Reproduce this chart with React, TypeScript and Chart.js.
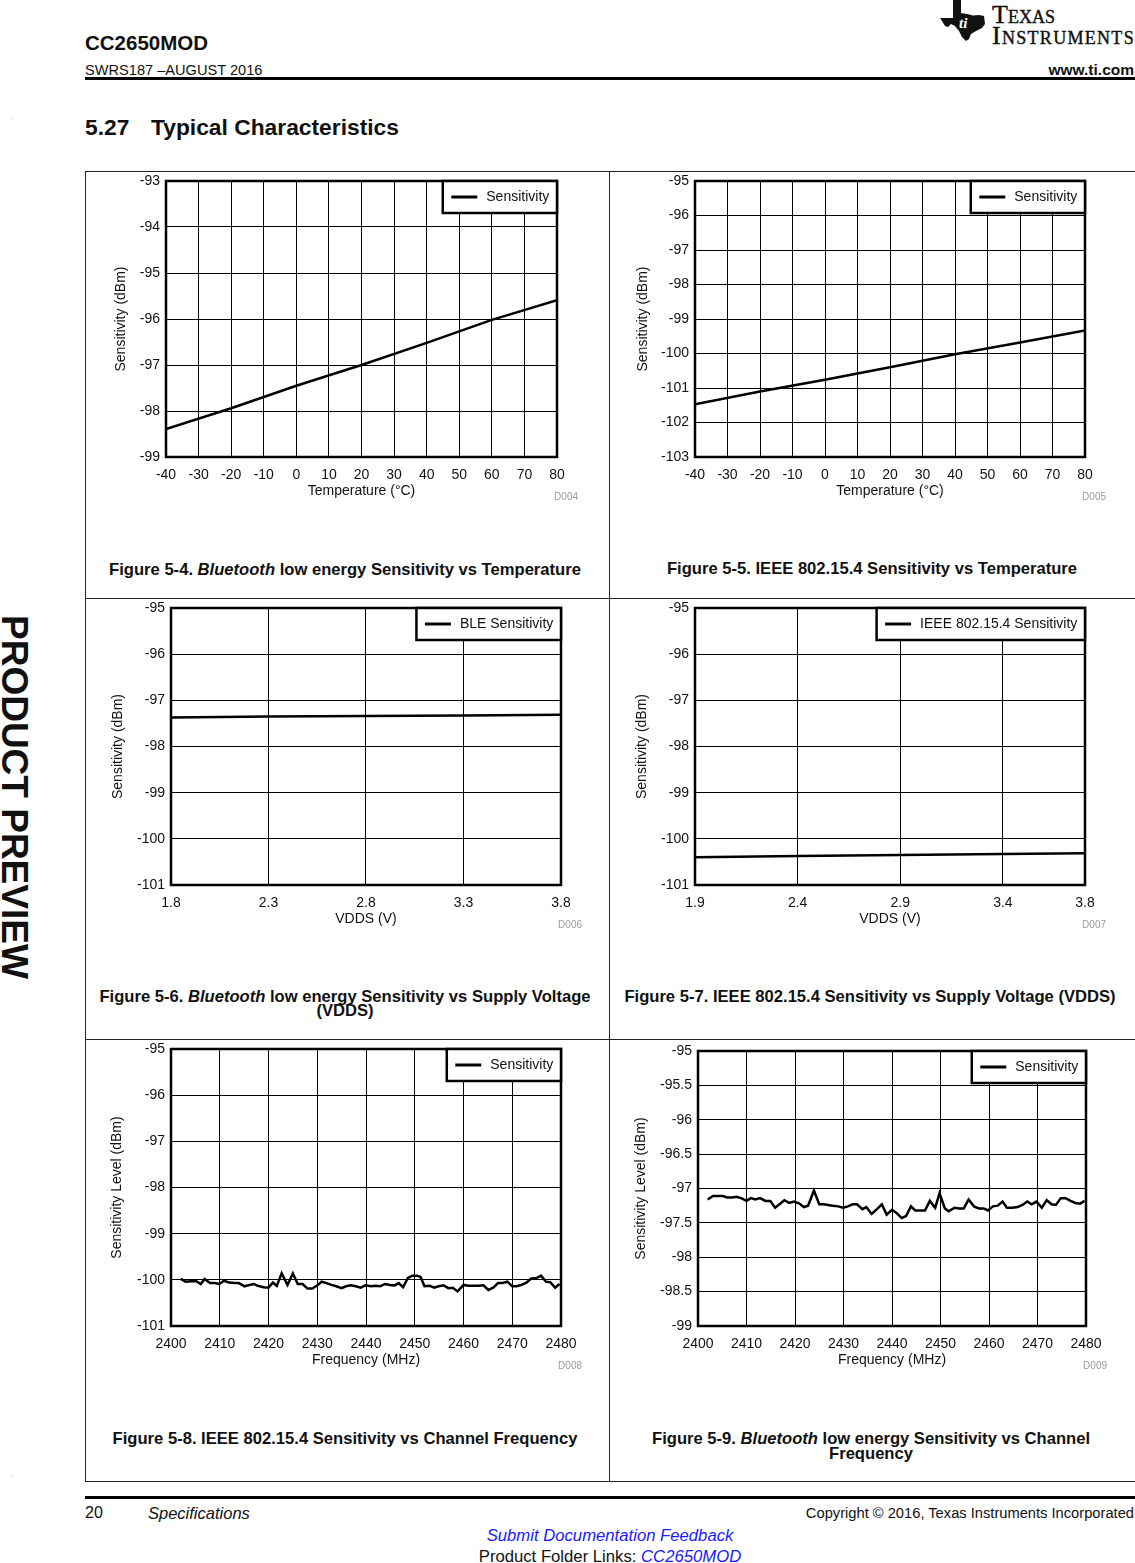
import React, { useEffect, useRef } from "react";
import { Chart, registerables } from "chart.js";

Chart.register(...registerables);

const FONT = '"Liberation Sans", Arial, Helvetica, sans-serif';

// ---------- Figure 5-4 / 5-5 : sensitivity vs temperature ----------
const tempC = [-40, -20, 0, 20, 40, 60, 80];
const bleSensVsTemp = [-98.39, -97.94, -97.45, -97.0, -96.52, -96.02, -95.59];
const ieeeSensVsTemp = [-101.47, -101.1, -100.76, -100.4, -100.02, -99.68, -99.33];
const tempTicks = [-40, -30, -20, -10, 0, 10, 20, 30, 40, 50, 60, 70, 80];
const bleTempYTicks = [-99, -98, -97, -96, -95, -94, -93];
const ieeeTempYTicks = [-103, -102, -101, -100, -99, -98, -97, -96, -95];

// ---------- Figure 5-6 / 5-7 : sensitivity vs VDDS ----------
const vddsBle = [1.8, 2.3, 2.8, 3.3, 3.8];
const bleSensVsVdds = [-97.37, -97.35, -97.34, -97.33, -97.31];
const vddsIeee = [1.9, 2.4, 2.9, 3.4, 3.8];
const ieeeSensVsVdds = [-100.4, -100.37, -100.35, -100.33, -100.31];
const vddsBleTicks = [1.8, 2.3, 2.8, 3.3, 3.8];
const vddsIeeeTicks = [1.9, 2.4, 2.9, 3.4, 3.8];
const vddsYTicks = [-101, -100, -99, -98, -97, -96, -95];

// ---------- Figure 5-8 : IEEE 802.15.4 sensitivity vs channel frequency ----------
const ieeeFreq = [
  2402, 2403, 2404.1, 2405.2, 2406.1, 2406.9, 2408, 2409, 2409.9, 2410.9,
  2411.9, 2413.1, 2413.9, 2415.1, 2416.1, 2417, 2417.8, 2419, 2420, 2420.9,
  2421.7, 2422.7, 2423.9, 2425, 2426, 2427, 2428, 2429, 2430.1, 2430.9,
  2431.9, 2432.9, 2433.9, 2435, 2435.9, 2436.9, 2437.9, 2438.9, 2439.9, 2441,
  2442, 2442.9, 2443.9, 2444.9, 2445.9, 2446.7, 2447.6, 2448.6, 2449.5, 2450.5,
  2451.2, 2452, 2453.1, 2454, 2454.9, 2455.9, 2456.9, 2457.8, 2458.8, 2460,
  2461, 2461.9, 2463.1, 2464.1, 2465.1, 2466.1, 2467.1, 2468, 2469, 2470,
  2470.9, 2471.9, 2472.9, 2473.9, 2475, 2475.9, 2476.9, 2477.8, 2478.8, 2479.7,
];
const ieeeSensVsFreq = [
  -99.98, -100.04, -100.03, -100.03, -100.09, -99.98, -100.07, -100.07, -100.09, -100.02,
  -100.06, -100.07, -100.07, -100.14, -100.11, -100.09, -100.13, -100.16, -100.17, -100.06,
  -100.13, -99.86, -100.11, -99.86, -100.09, -100.09, -100.19, -100.19, -100.11, -100.04,
  -100.07, -100.11, -100.14, -100.18, -100.14, -100.12, -100.14, -100.17, -100.12, -100.14,
  -100.13, -100.14, -100.09, -100.11, -100.12, -100.07, -100.16, -99.96, -99.91, -99.91,
  -99.94, -100.14, -100.13, -100.17, -100.14, -100.12, -100.18, -100.17, -100.25, -100.11,
  -100.13, -100.13, -100.13, -100.12, -100.22, -100.17, -100.07, -100.07, -100.04, -100.14,
  -100.14, -100.11, -100.06, -99.97, -99.96, -99.91, -100.04, -100.05, -100.17, -100.09,
];

// ---------- Figure 5-9 : BLE sensitivity vs channel frequency ----------
const bleFreq = [
  2402, 2403.1, 2404.1, 2405.1, 2406, 2407, 2407.9, 2408.9, 2410, 2410.9,
  2411.8, 2412.8, 2413.9, 2414.9, 2415.9, 2416.8, 2417.8, 2418.8, 2419.8, 2420.9,
  2421.8, 2422.7, 2423.9, 2425, 2425.9, 2426.8, 2427.8, 2428.9, 2429.9, 2430.9,
  2431.9, 2432.8, 2433.9, 2434.7, 2435.8, 2436.9, 2437.9, 2438.9, 2440, 2441,
  2442, 2442.9, 2443.9, 2444.8, 2445.8, 2446.8, 2447.8, 2448.9, 2449.8, 2450.9,
  2451.7, 2452.9, 2453.8, 2454.8, 2455.8, 2456.9, 2457.9, 2458.9, 2459.8, 2460.8,
  2461.8, 2462.8, 2463.7, 2464.8, 2465.9, 2466.9, 2467.9, 2468.8, 2469.8, 2470.9,
  2471.9, 2472.9, 2473.8, 2474.8, 2475.8, 2476.8, 2477.8, 2478.8, 2479.7,
];
const bleSensVsFreq = [
  -97.16, -97.11, -97.11, -97.11, -97.13, -97.13, -97.12, -97.14, -97.18, -97.14,
  -97.16, -97.14, -97.18, -97.18, -97.28, -97.23, -97.17, -97.21, -97.19, -97.22,
  -97.27, -97.25, -97.03, -97.23, -97.23, -97.24, -97.25, -97.26, -97.28, -97.26,
  -97.23, -97.23, -97.3, -97.27, -97.37, -97.3, -97.23, -97.38, -97.31, -97.36,
  -97.43, -97.4, -97.26, -97.32, -97.32, -97.32, -97.18, -97.28, -97.07, -97.29,
  -97.33, -97.28, -97.29, -97.29, -97.16, -97.26, -97.29, -97.29, -97.32, -97.26,
  -97.25, -97.19, -97.28, -97.28, -97.27, -97.24, -97.19, -97.23, -97.19, -97.28,
  -97.17, -97.23, -97.24, -97.14, -97.14, -97.18, -97.21, -97.22, -97.18,
];
const freqTicks = [2400, 2410, 2420, 2430, 2440, 2450, 2460, 2470, 2480];
const ieeeFreqYTicks = [-101, -100, -99, -98, -97, -96, -95];
const bleFreqYTicks = [-99, -98.5, -98, -97.5, -97, -96.5, -96, -95.5, -95];

type Panel = {
  L: number; T: number; R: number; B: number; YT: number;
  xs: number[]; ys: number[]; xTicks: number[]; yTicks: number[];
  xTitle: string; yTitle: string; legend: string; tag: string;
};

const PAD_TOP = 16;
const PAD_RIGHT = 30;
const PAD_BOTTOM = 10;
const X_BOX = 43;

function ChartPanel({ p }: { p: Panel }) {
  const ref = useRef<HTMLCanvasElement | null>(null);
  const canvasLeft = Math.round(p.YT - 8.4);
  const yBox = p.L - canvasLeft;
  const canvasTop = p.T - PAD_TOP;
  const width = p.R - canvasLeft + PAD_RIGHT;
  const height = p.B - p.T + PAD_TOP + X_BOX + PAD_BOTTOM;

  useEffect(() => {
    if (!ref.current) return;
    const framePlugin = {
      id: "frame",
      afterDraw(chart: any) {
        const { ctx, chartArea } = chart;
        const { left, top, right, bottom } = chartArea;
        ctx.save();
        ctx.strokeStyle = "#000";
        ctx.lineWidth = 2.5;
        ctx.strokeRect(left, top, right - left, bottom - top);
        const label = chart.data.datasets[0].label;
        ctx.font = `14px ${FONT}`;
        const tw = ctx.measureText(label).width;
        const bw = 43.5 + tw + 7.7;
        const bx = right - bw;
        const bh = 32;
        ctx.fillStyle = "#fff";
        ctx.fillRect(bx, top, bw, bh);
        ctx.strokeRect(bx, top, bw, bh);
        ctx.lineWidth = 3;
        ctx.beginPath();
        ctx.moveTo(bx + 8.5, top + 16);
        ctx.lineTo(bx + 34.5, top + 16);
        ctx.stroke();
        ctx.fillStyle = "#111";
        ctx.textBaseline = "middle";
        ctx.textAlign = "left";
        ctx.fillText(label, bx + 43.5, top + 16.5);
        ctx.font = `10px ${FONT}`;
        ctx.fillStyle = "#9a9a9a";
        ctx.textAlign = "right";
        ctx.fillText(p.tag, right + 21, bottom + 40.5);
        ctx.restore();
      },
    };
    const tickFont = { family: FONT, size: 14 };
    const chart = new Chart(ref.current, {
      type: "line",
      data: {
        datasets: [
          {
            label: p.legend,
            data: p.xs.map((x, i) => ({ x, y: p.ys[i] })),
            borderColor: "#000",
            borderWidth: 2.5,
            pointRadius: 0,
            tension: 0,
            fill: false,
          },
        ],
      },
      options: {
        responsive: false,
        animation: false,
        devicePixelRatio: 1,
        events: [],
        layout: { padding: { left: 0, top: PAD_TOP, right: PAD_RIGHT, bottom: PAD_BOTTOM } },
        plugins: { legend: { display: false }, tooltip: { enabled: false } },
        scales: {
          x: {
            type: "linear",
            min: p.xTicks[0],
            max: p.xTicks[p.xTicks.length - 1],
            afterBuildTicks: (s: any) => {
              s.ticks = p.xTicks.map((v) => ({ value: v }));
            },
            afterFit: (s: any) => {
              s.height = X_BOX;
            },
            grid: { color: "#000", lineWidth: 1, drawTicks: false },
            border: { display: false },
            ticks: {
              color: "#111",
              font: tickFont,
              padding: 10,
              maxRotation: 0,
              autoSkip: false,
              callback: (v: any) => String(v),
            },
            title: { display: true, text: p.xTitle, color: "#111", font: tickFont, padding: 0 },
          },
          y: {
            type: "linear",
            min: p.yTicks[0],
            max: p.yTicks[p.yTicks.length - 1],
            afterBuildTicks: (s: any) => {
              s.ticks = p.yTicks.map((v) => ({ value: v }));
            },
            afterFit: (s: any) => {
              s.width = yBox;
            },
            grid: { color: "#000", lineWidth: 1, drawTicks: false },
            border: { display: false },
            ticks: {
              color: "#111",
              font: tickFont,
              padding: 6,
              autoSkip: false,
              callback: (v: any) => String(v),
            },
            title: { display: true, text: p.yTitle, color: "#111", font: tickFont, padding: 0 },
          },
        },
      },
      plugins: [framePlugin],
    } as any);
    return () => chart.destroy();
  }, []);

  return (
    <canvas
      ref={ref}
      width={width}
      height={height}
      style={{ position: "absolute", left: canvasLeft, top: canvasTop, width, height, display: "block" }}
    />
  );
}

const panels: Panel[] = [
  {
    L: 166, T: 181, R: 557, B: 457, YT: 121.7,
    xs: tempC, ys: bleSensVsTemp, xTicks: tempTicks, yTicks: bleTempYTicks,
    xTitle: "Temperature (°C)", yTitle: "Sensitivity (dBm)", legend: "Sensitivity", tag: "D004",
  },
  {
    L: 695, T: 181, R: 1085, B: 457, YT: 643.3,
    xs: tempC, ys: ieeeSensVsTemp, xTicks: tempTicks, yTicks: ieeeTempYTicks,
    xTitle: "Temperature (°C)", yTitle: "Sensitivity (dBm)", legend: "Sensitivity", tag: "D005",
  },
  {
    L: 171, T: 608, R: 561, B: 885, YT: 118.3,
    xs: vddsBle, ys: bleSensVsVdds, xTicks: vddsBleTicks, yTicks: vddsYTicks,
    xTitle: "VDDS (V)", yTitle: "Sensitivity (dBm)", legend: "BLE Sensitivity", tag: "D006",
  },
  {
    L: 695, T: 608, R: 1085, B: 885, YT: 642.3,
    xs: vddsIeee, ys: ieeeSensVsVdds, xTicks: vddsIeeeTicks, yTicks: vddsYTicks,
    xTitle: "VDDS (V)", yTitle: "Sensitivity (dBm)", legend: "IEEE 802.15.4 Sensitivity", tag: "D007",
  },
  {
    L: 171, T: 1049, R: 561, B: 1326, YT: 117.3,
    xs: ieeeFreq, ys: ieeeSensVsFreq, xTicks: freqTicks, yTicks: ieeeFreqYTicks,
    xTitle: "Frequency (MHz)", yTitle: "Sensitivity Level (dBm)", legend: "Sensitivity", tag: "D008",
  },
  {
    L: 698, T: 1051, R: 1086, B: 1326, YT: 641.3,
    xs: bleFreq, ys: bleSensVsFreq, xTicks: freqTicks, yTicks: bleFreqYTicks,
    xTitle: "Frequency (MHz)", yTitle: "Sensitivity Level (dBm)", legend: "Sensitivity", tag: "D009",
  },
];

const abs = (s: React.CSSProperties): React.CSSProperties => ({ position: "absolute", whiteSpace: "nowrap", ...s });

function Caption({ cx, top, lh, children }: { cx: number; top: number; lh: number; children: React.ReactNode }) {
  return (
    <div
      style={abs({
        left: cx - 300,
        width: 600,
        top,
        textAlign: "center",
        fontSize: 16.6,
        fontWeight: "bold",
        lineHeight: `${lh}px`,
        color: "#111",
      })}
    >
      {children}
    </div>
  );
}

const LOGO_FONT = '"Liberation Serif", "DejaVu Serif", serif';

export default function App() {
  return (
    <div
      style={{
        position: "absolute",
        left: 0,
        top: 0,
        width: 1135,
        height: 1563,
        overflow: "hidden",
        background: "#fff",
        fontFamily: FONT,
        color: "#111",
      }}
    >
      {/* Header */}
      <div style={abs({ left: 85, top: 33, fontSize: 20.5, fontWeight: "bold", lineHeight: "20px" })}>CC2650MOD</div>
      <div style={abs({ left: 85, top: 63, fontSize: 14.6, lineHeight: "14px" })}>SWRS187 –AUGUST 2016</div>
      <div style={abs({ right: 1, top: 62, fontSize: 15.5, fontWeight: "bold", lineHeight: "15px" })}>www.ti.com</div>
      <div style={abs({ left: 85, top: 77, width: 1050, height: 3, background: "#000" })} />

      {/* TI logo */}
      <svg style={{ position: "absolute", left: 940, top: 0 }} width={48} height={42} viewBox="0 0 48 42">
        <path
          d="M13,0 L21,0 L21,13 L27,14 L33,15.5 L39,15 L44,16 L45,24 L42,28 L36,31 L31,34 L29,39 L26,41 L22,37 L19,31 L15,26 L11,24 L8,27 L5,26 L2,21 L0,18 L13,18 Z"
          fill="#111"
        />
        <text x="19" y="28" fill="#fff" fontFamily='"Liberation Serif", serif' fontStyle="italic" fontWeight="bold" fontSize="15">
          ti
        </text>
      </svg>
      <div
        style={abs({
          left: 992,
          top: 2,
          fontFamily: LOGO_FONT,
          fontVariant: "small-caps",
          fontSize: 26,
          lineHeight: "26px",
          color: "#111",
          WebkitTextStroke: "0.4px #111",
        })}
      >
        Texas
      </div>
      <div
        style={abs({
          left: 992,
          top: 23,
          fontFamily: LOGO_FONT,
          fontVariant: "small-caps",
          fontSize: 26,
          lineHeight: "26px",
          letterSpacing: 1.3,
          color: "#111",
          WebkitTextStroke: "0.4px #111",
        })}
      >
        Instruments
      </div>

      {/* Side banner */}
      <div
        style={abs({
          left: -4,
          top: 615,
          writingMode: "vertical-rl",
          fontSize: 37,
          lineHeight: "37px",
          fontWeight: "bold",
          color: "#111",
        })}
      >
        PRODUCT PREVIEW
      </div>

      <div style={abs({ left: 12, top: 118, width: 1, height: 1, background: "#bbb" })} />
      <div style={abs({ left: 12, top: 1476, width: 1, height: 1, background: "#bbb" })} />

      {/* Section title */}
      <div style={abs({ left: 85, top: 116, fontSize: 22.8, fontWeight: "bold", lineHeight: "22px" })}>5.27</div>
      <div style={abs({ left: 151, top: 116, fontSize: 22.8, fontWeight: "bold", lineHeight: "22px" })}>
        Typical Characteristics
      </div>

      {/* Figure frame */}
      <div style={abs({ left: 85, top: 171, width: 1049, height: 1309, border: "1px solid #222" })} />
      <div style={abs({ left: 609, top: 171, width: 1, height: 1310, background: "#222" })} />
      <div style={abs({ left: 85, top: 598, width: 1050, height: 1, background: "#222" })} />
      <div style={abs({ left: 85, top: 1039, width: 1050, height: 1, background: "#222" })} />

      {panels.map((p, i) => (
        <ChartPanel key={i} p={p} />
      ))}

      {/* Captions */}
      <Caption cx={345} top={563} lh={14}>
        Figure 5-4. <i>Bluetooth</i> low energy Sensitivity vs Temperature
      </Caption>
      <Caption cx={872} top={562} lh={14}>
        Figure 5-5. IEEE 802.15.4 Sensitivity vs Temperature
      </Caption>
      <Caption cx={345} top={990} lh={14}>
        Figure 5-6. <i>Bluetooth</i> low energy Sensitivity vs Supply Voltage
        <br />
        (VDDS)
      </Caption>
      <Caption cx={870} top={990} lh={14}>
        Figure 5-7. IEEE 802.15.4 Sensitivity vs Supply Voltage (VDDS)
      </Caption>
      <Caption cx={345} top={1431} lh={15}>
        Figure 5-8. IEEE 802.15.4 Sensitivity vs Channel Frequency
      </Caption>
      <Caption cx={871} top={1431} lh={15}>
        Figure 5-9. <i>Bluetooth</i> low energy Sensitivity vs Channel
        <br />
        Frequency
      </Caption>

      {/* Footer */}
      <div style={abs({ left: 85, top: 1496, width: 1050, height: 3, background: "#000" })} />
      <div style={abs({ left: 85, top: 1505, fontSize: 16, lineHeight: "16px" })}>20</div>
      <div style={abs({ left: 148, top: 1505, fontSize: 16.5, lineHeight: "16px", fontStyle: "italic" })}>
        Specifications
      </div>
      <div style={abs({ right: 1, top: 1506, fontSize: 14.7, lineHeight: "15px" })}>
        Copyright © 2016, Texas Instruments Incorporated
      </div>
      <div
        style={abs({
          left: 310,
          width: 600,
          top: 1528,
          textAlign: "center",
          fontSize: 16.7,
          lineHeight: "16px",
          fontStyle: "italic",
          color: "#1a1aff",
        })}
      >
        Submit Documentation Feedback
      </div>
      <div style={abs({ left: 310, width: 600, top: 1549, textAlign: "center", fontSize: 16.7, lineHeight: "16px" })}>
        Product Folder Links: <i style={{ color: "#1a1aff" }}>CC2650MOD</i>
      </div>
    </div>
  );
}
